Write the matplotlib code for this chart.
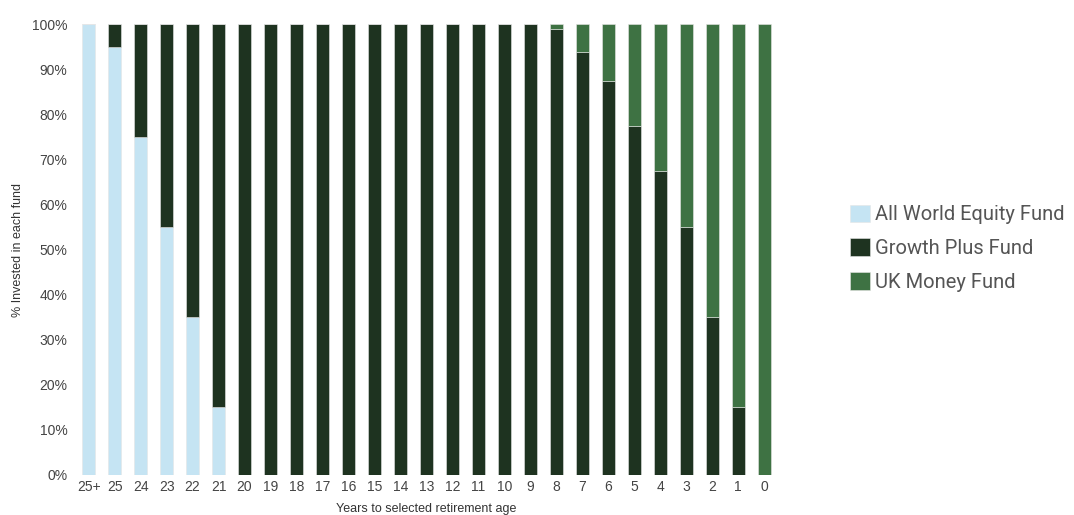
import matplotlib.pyplot as plt
import numpy as np

# years to retirement, left to right
years = ['25+', '25', '24', '23', '22', '21', '20', '19', '18', '17', '16', '15', '14',
         '13', '12', '11', '10', '9', '8', '7', '6', '5', '4', '3', '2', '1', '0']
equity = [100, 95, 75, 55, 35, 15, 0, 0, 0, 0, 0, 0, 0,
          0, 0, 0, 0, 0, 0, 0, 0, 0, 0, 0, 0, 0, 0]
growth = [0, 5, 25, 45, 65, 85, 100, 100, 100, 100, 100, 100, 100,
          100, 100, 100, 100, 100, 99, 93.75, 87.5, 77.5, 67.5, 55, 35, 15, 0]
money = [100 - e - g for e, g in zip(equity, growth)]

fund_names = ['All World Equity Fund', 'Growth Plus Fund', 'UK Money Fund']
colors = ['#c5e4f3', '#1e3320', '#3e7243']

plt.rcParams['font.family'] = ['Liberation Sans', 'DejaVu Sans']
fig = plt.figure(figsize=(10.74, 5.15), dpi=100)
ax = fig.add_axes([0.068, 0.078, 0.658, 0.875])

x = np.arange(len(years))
bottom = np.zeros(len(years))
for vals, name, c in zip([equity, growth, money], fund_names, colors):
    ax.bar(x, vals, width=0.5, bottom=bottom, color=c, label=name,
           edgecolor='#e6e6e6', linewidth=0.4)
    bottom += np.array(vals)

ax.set_xlim(-0.6, len(years) - 0.4)
ax.set_ylim(0, 100)
ax.set_xticks(x)
ax.set_xticklabels(years)
ax.set_yticks(range(0, 101, 10))
ax.set_yticklabels([f'{v}%' for v in range(0, 101, 10)])
ax.tick_params(length=0, labelsize=10, colors='#444444', pad=4)
for s in ax.spines.values():
    s.set_visible(False)

ax.set_ylabel('% Invested in each fund', fontsize=9, color='#333333', labelpad=6)
ax.set_xlabel('Years to selected retirement age', fontsize=9, color='#333333', labelpad=6)

leg = fig.legend(loc='center left', bbox_to_anchor=(0.775, 0.518), frameon=False,
                 prop={'family': 'Roboto', 'size': 14.5}, handlelength=0.95, handleheight=0.95,
                 handletextpad=0.25, labelspacing=0.7)
for t in leg.get_texts():
    t.set_color('#555555')

plt.savefig('out.png', dpi=100)
